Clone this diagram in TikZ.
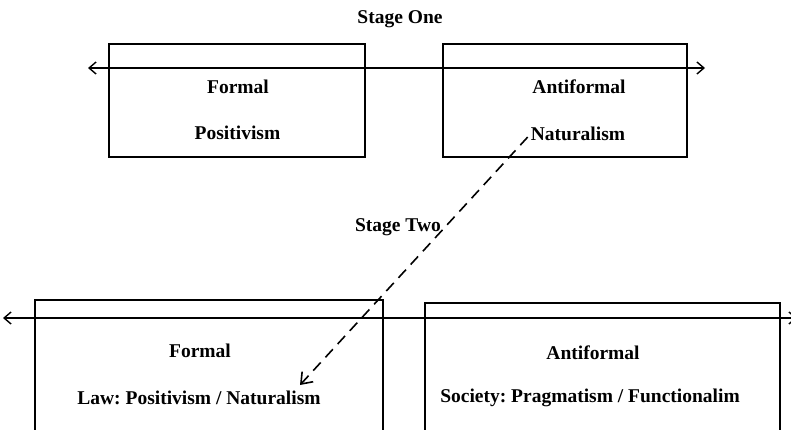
\documentclass[tikz,border=0pt]{standalone}
\usepackage{fontspec}
\setmainfont{Liberation Serif}
\usetikzlibrary{arrows.meta,positioning}
\frenchspacing

\begin{document}
\begin{tikzpicture}[x=1pt,y=-1pt,>={Straight Barb[length=7pt,width=12pt]},
  box/.style={draw,line width=1.6pt,inner sep=0pt},
  lbl/.style={font=\bfseries\fontsize{19.5}{23}\selectfont,inner sep=1pt}]
\useasboundingbox (0,0) rectangle (791,429);
\clip (0,0) rectangle (791,429);

% stage one
\node[lbl] (one) at (400,19) {Stage One};
\node[box,minimum width=256pt,minimum height=113pt] (fbox1) at (237,100.5) {};
\node[box,minimum width=244pt,minimum height=113pt] (abox1) at (565,100.5) {};
\node[lbl] (form1) at (238,87) {Formal};
\node[lbl] (pos) at (237.5,133) {Positivism};
\node[lbl] (anti1) at (579,87) {Antiformal};
\node[lbl] (nat) at (578,134) {Naturalism};

\coordinate (l1) at (88,68);
\coordinate (r1) at (705,68);
\draw[<->,line width=1.4pt] (l1)--(r1);

% stage two
\node[lbl] (two) at (398,227) {Stage Two};
\node[box,minimum width=348pt,minimum height=135pt] (fbox2) at (209,367.5) {};
\node[box,minimum width=355pt,minimum height=132pt] (abox2) at (602.5,369) {};
\node[lbl] (form2) at (200,351) {Formal};
\node[lbl] (law) at (199,398) {Law: Positivism / Naturalism};
\node[lbl] (anti2) at (593,353) {Antiformal};
\node[lbl] (soc) at (590,398) {Society: Pragmatism / Functionalim};

\coordinate (l2) at (3,318);
\coordinate (r2) at (797,318);
\draw[<->,line width=1.4pt] (l2)--(r2);

% from stage one to stage two
\coordinate (tip) at (300,385);
\draw[-{Straight Barb[length=10pt,width=15pt]},line width=1.6pt,dash pattern=on 11pt off 7pt]
  ([shift={(-2,-5)}]nat.south west)--(tip);

\end{tikzpicture}
\end{document}
